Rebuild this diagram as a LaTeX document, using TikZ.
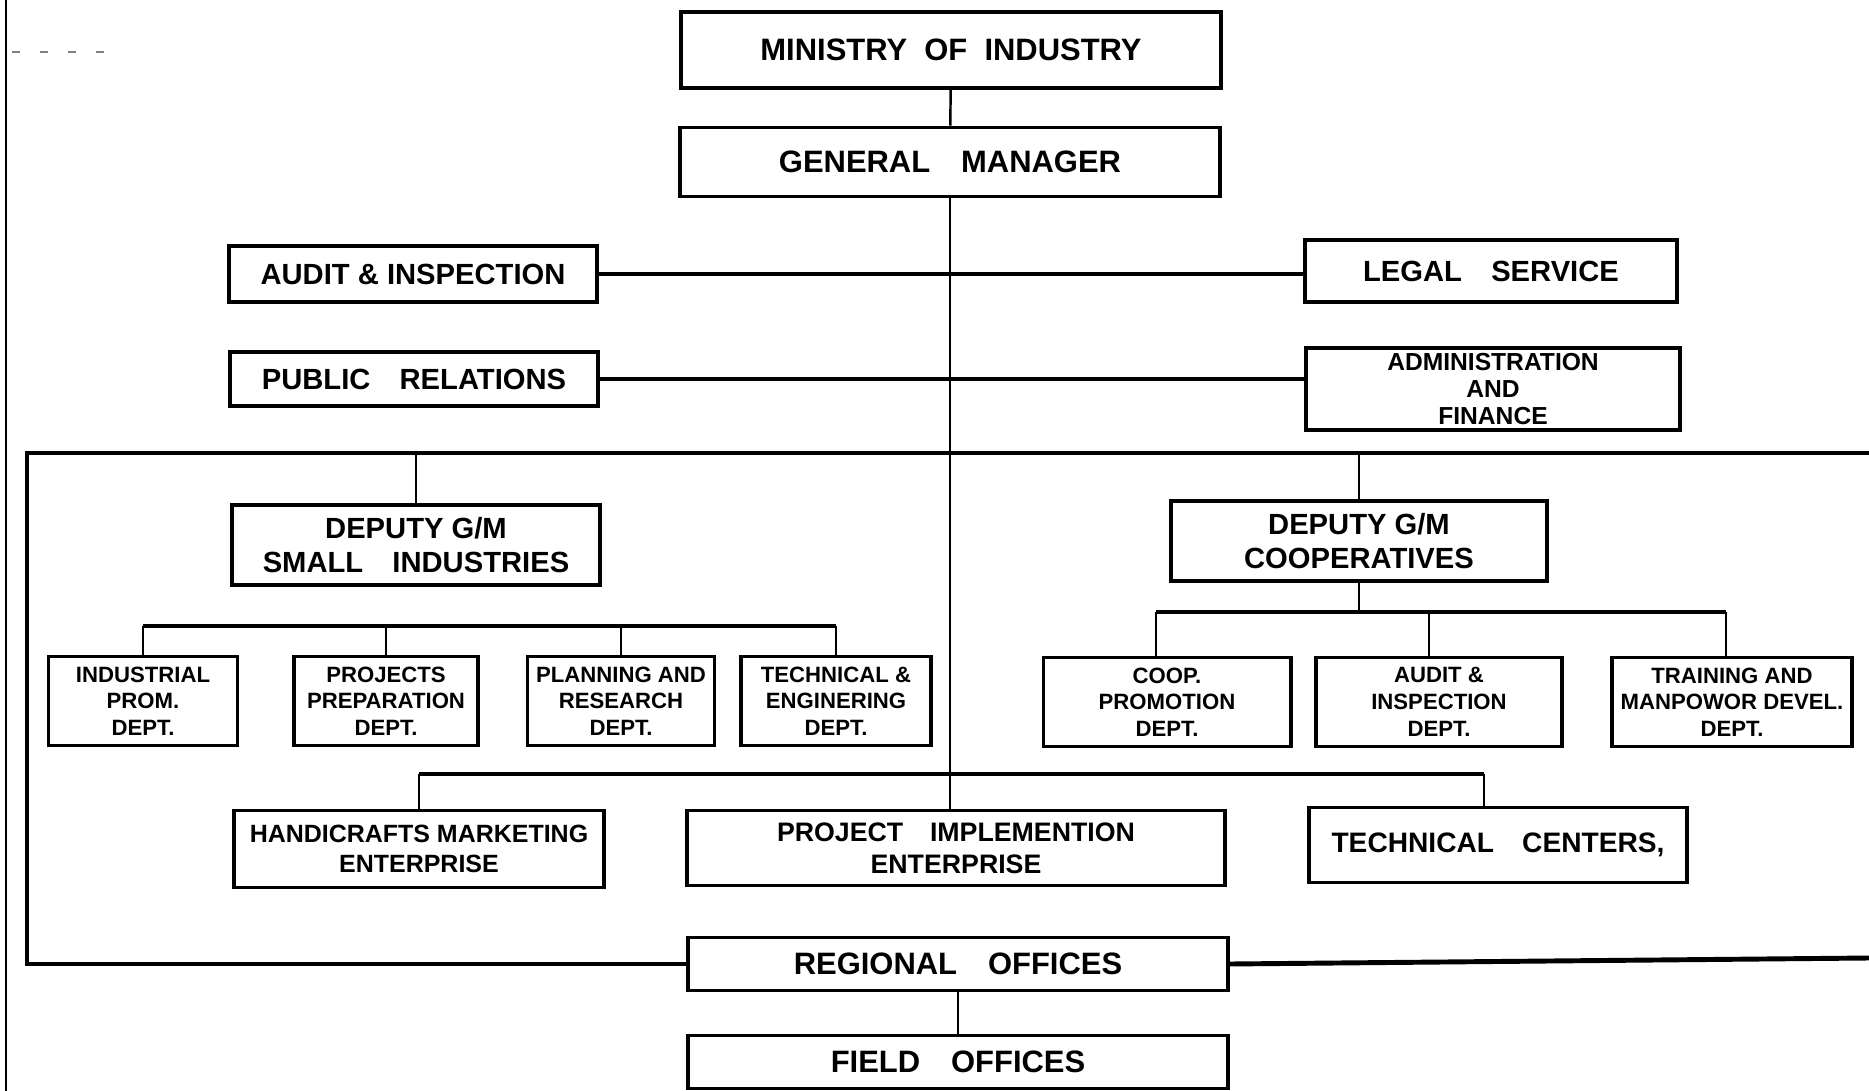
\documentclass[tikz,border=0pt]{standalone}
\usepackage{fontspec}
\setmainfont{Liberation Sans}
\usetikzlibrary{calc}

\begin{document}
\begin{tikzpicture}[
  x=0.01cm, y=-0.01cm,
  box/.style={draw=black, line width=1.1pt, fill=white, align=center, inner sep=1pt},
  big/.style={box, minimum width=5.4cm, font=\fontsize{8.8}{10}\selectfont\bfseries},
  side/.style={box, minimum width=3.7cm, font=\fontsize{8.3}{9.6}\selectfont\bfseries},
  dept/.style={box, minimum width=1.88cm, minimum height=0.89cm, font=\fontsize{6.3}{7.6}\selectfont\bfseries},
  cdept/.style={dept, minimum width=2.46cm},
  ent/.style={box, minimum height=0.76cm, font=\fontsize{7.1}{8.4}\selectfont\bfseries},
  link/.style={line width=0.7pt},
  bus/.style={line width=1.4pt}
]
\useasboundingbox (0,0) rectangle (1869,1091);

% ---- top of the chart ---------------------------------------------------
\node[big, minimum height=0.76cm] (min) at (951,50)  {MINISTRY\ \ OF\ \ INDUSTRY};
\node[big, minimum height=0.69cm] (gm)  at (950,162) {GENERAL\quad MANAGER};

% ---- staff units --------------------------------------------------------
\node[side, minimum width=3.68cm, minimum height=0.56cm] (aud) at (413,274)  {AUDIT \& INSPECTION};
\node[side, minimum width=3.72cm, minimum height=0.62cm] (leg) at (1491,271) {LEGAL\quad SERVICE};
\node[side, minimum width=3.67cm, minimum height=0.54cm] (pub) at (414,379)  {PUBLIC\quad RELATIONS};
\node[side, minimum width=3.74cm, minimum height=0.82cm,
      font=\fontsize{7}{7.8}\selectfont\bfseries] (adm) at (1493,389) {ADMINISTRATION\\AND\\FINANCE};

% ---- deputies -----------------------------------------------------------
\node[side, minimum width=3.68cm, minimum height=0.80cm] (dsm) at (416,545)  {DEPUTY G/M\\SMALL\quad INDUSTRIES};
\node[side, minimum width=3.75cm, minimum height=0.80cm] (dco) at (1359,541) {DEPUTY G/M\\COOPERATIVES};

% ---- departments --------------------------------------------------------
\node[dept, minimum width=1.89cm] (ind) at (143,701) {INDUSTRIAL\\PROM.\\DEPT.};
\node[dept, minimum width=1.84cm] (prj) at (386,701) {PROJECTS\\PREPARATION\\DEPT.};
\node[dept, minimum width=1.87cm] (pln) at (621,701) {PLANNING AND\\RESEARCH\\DEPT.};
\node[dept, minimum width=1.90cm] (tec) at (836,701) {TECHNICAL \&\\ENGINERING\\DEPT.};
\node[cdept, minimum width=2.47cm] (cpr) at (1167,702) {COOP.\\PROMOTION\\DEPT.};
\node[cdept]                       (aid) at (1439,702) {AUDIT \&\\INSPECTION\\DEPT.};
\node[cdept, minimum width=2.40cm] (trn) at (1732,702) {TRAINING AND\\MANPOWOR DEVEL.\\DEPT.};

% ---- enterprises --------------------------------------------------------
\node[ent, minimum width=3.70cm, minimum height=0.77cm] (hnd) at (419,849) {HANDICRAFTS MARKETING\\ENTERPRISE};
\node[ent, minimum width=5.37cm, minimum height=0.75cm,
      font=\fontsize{7.6}{9}\selectfont\bfseries] (pie) at (956,848) {PROJECT\quad IMPLEMENTION\\ENTERPRISE};
\node[ent, minimum width=3.78cm, minimum height=0.75cm,
      font=\fontsize{8}{9}\selectfont\bfseries] (tcn) at (1498,845) {TECHNICAL\quad CENTERS,};

% ---- field level --------------------------------------------------------
\node[big, minimum height=0.53cm] (reg) at (958,964)  {REGIONAL\quad OFFICES};
\node[big, minimum height=0.53cm] (fld) at (958,1062) {FIELD\quad OFFICES};

% ---- bus coordinates ----------------------------------------------------
\coordinate (busL) at (27,453);
\coordinate (busR) at (1869,453);
\coordinate (regR) at (1869,958);
\coordinate (sbus) at (0,626);
\coordinate (cbus) at (0,612);
\coordinate (ebus) at (0,774);

% ---- main line ----------------------------------------------------------
\draw[link] (min) -- (gm);
\draw[link] (gm.south) -- (gm.south |- pie.north);
\draw[bus] (aud.east) -- (aud.east -| leg.west);
\draw[bus] (pub.east) -- (pub.east -| adm.west);
\draw[bus] (busR) -- (busL) |- (reg.west);
\draw[bus] (reg.east) -- (regR);
\draw[link] (busL -| dsm.north) -- (dsm.north);
\draw[link] (busL -| dco.north) -- (dco.north);
\draw[link] (reg) -- (fld);

% ---- small industries departments ---------------------------------------
\draw[bus] (sbus -| ind.north) -- (sbus -| tec.north);
\foreach \d in {ind,prj,pln,tec}
  \draw[link] (\d.north) -- (\d.north |- sbus);

% ---- cooperatives departments -------------------------------------------
\draw[link] (dco.south) -- (dco.south |- cbus);
\draw[bus] ($(cbus -| cpr.north)+(-11,0)$) -- ($(cbus -| trn.north)+(-6,0)$);
\draw[link] ($(cpr.north)+(-11,0)$) -- ($(cbus -| cpr.north)+(-11,0)$);
\draw[link] ($(aid.north)+(-10,0)$) -- ($(cbus -| aid.north)+(-10,0)$);
\draw[link] ($(trn.north)+(-6,0)$) -- ($(cbus -| trn.north)+(-6,0)$);

% ---- enterprises --------------------------------------------------------
\draw[bus] (ebus -| hnd.north) -- ($(ebus -| tcn.north)+(-14,0)$);
\draw[link] (hnd.north) -- (hnd.north |- ebus);
\draw[link] ($(tcn.north)+(-14,0)$) -- ($(ebus -| tcn.north)+(-14,0)$);

% ---- page edge ----------------------------------------------------------
\draw[line width=0.8pt] (6,0) -- (6,1091);
\draw[gray, line width=0.4pt, dash pattern=on 0.08cm off 0.2cm] (12,52) -- (113,52);

\end{tikzpicture}
\end{document}
